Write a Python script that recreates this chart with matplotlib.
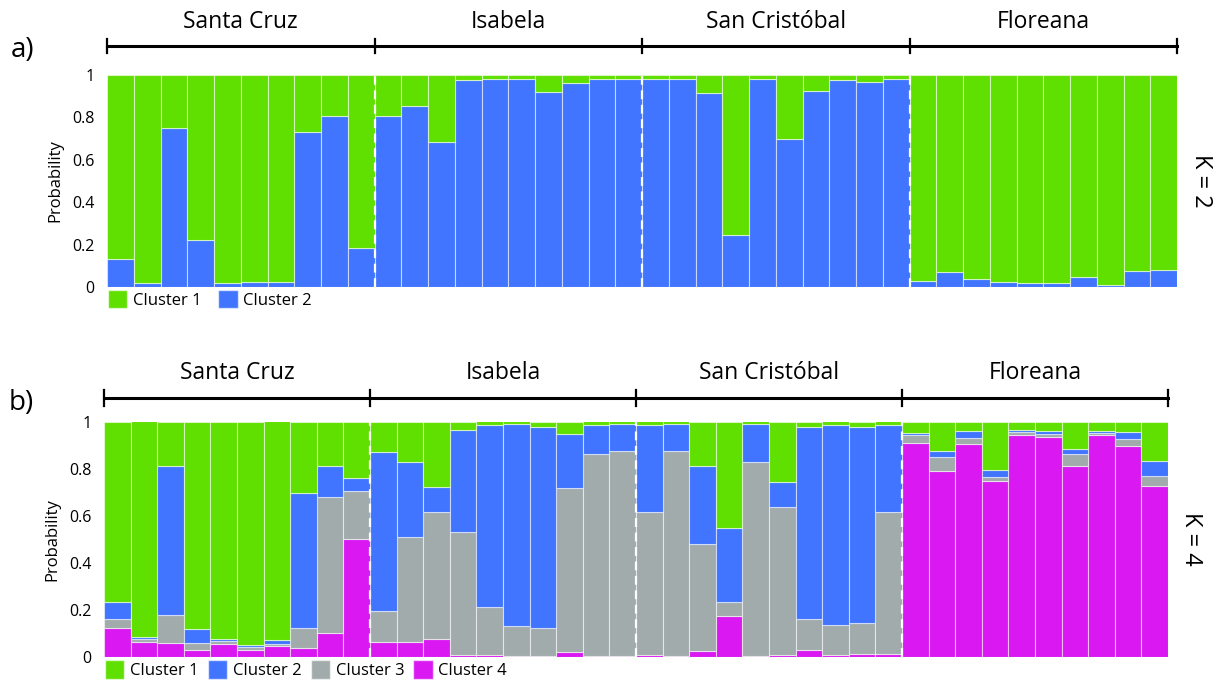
import matplotlib.pyplot as plt
import numpy as np
from matplotlib.patches import Patch

plt.rcParams['font.family'] = ['Open Sans', 'DejaVu Sans']

islands = ['Santa Cruz', 'Isabela', 'San Cristóbal', 'Floreana']
n_per_island = 10

# K = 2: proportion of Cluster 2 per individual (Cluster 1 is the rest)
k2_cluster2 = [
    0.13, 0.02, 0.748, 0.224, 0.02, 0.025, 0.025, 0.729, 0.806, 0.186,
    0.806, 0.854, 0.682, 0.975, 0.981, 0.979, 0.918, 0.964, 0.981, 0.979,
    0.979, 0.979, 0.913, 0.243, 0.981, 0.699, 0.926, 0.978, 0.965, 0.979,
    0.03, 0.07, 0.038, 0.025, 0.019, 0.017, 0.047, 0.011, 0.077, 0.082,
]

# K = 4: per-individual proportions for clusters 4, 3 and 2 (Cluster 1 fills to 1)
k4_cluster4 = [
    0.123, 0.064, 0.059, 0.028, 0.055, 0.031, 0.045, 0.037, 0.100, 0.499,
    0.064, 0.063, 0.075, 0.010, 0.007, 0.006, 0.006, 0.020, 0.004, 0.006,
    0.010, 0.006, 0.025, 0.174, 0.006, 0.010, 0.031, 0.010, 0.014, 0.014,
    0.908, 0.788, 0.904, 0.747, 0.944, 0.935, 0.809, 0.941, 0.898, 0.727,
]
k4_cluster3 = [
    0.040, 0.012, 0.118, 0.031, 0.011, 0.011, 0.010, 0.086, 0.579, 0.207,
    0.133, 0.448, 0.542, 0.521, 0.206, 0.124, 0.118, 0.699, 0.859, 0.868,
    0.607, 0.868, 0.456, 0.061, 0.823, 0.629, 0.132, 0.127, 0.129, 0.603,
    0.034, 0.063, 0.024, 0.017, 0.011, 0.013, 0.053, 0.010, 0.029, 0.043,
]
k4_cluster2 = [
    0.070, 0.009, 0.632, 0.062, 0.012, 0.010, 0.018, 0.573, 0.130, 0.056,
    0.673, 0.317, 0.105, 0.433, 0.771, 0.858, 0.853, 0.228, 0.124, 0.117,
    0.370, 0.117, 0.328, 0.313, 0.159, 0.105, 0.813, 0.850, 0.833, 0.370,
    0.011, 0.022, 0.030, 0.031, 0.009, 0.010, 0.021, 0.007, 0.028, 0.064,
]

green = '#5FE000'
blue = '#4175FF'
grey = '#A1ABAB'
magenta = '#D918F2'

fig = plt.figure(figsize=(12.15, 6.84), dpi=100)


def structure_panel(ax, layers, colors, names, bracket_y, label_y, tag, k_text,
                    legend_gap):
    x = np.arange(len(layers[0])) + 0.5
    bottom = np.zeros(len(x))
    for vals, c in zip(layers, colors):
        ax.bar(x, vals, bottom=bottom, width=1.0, color=c,
               edgecolor=(1, 1, 1, 0.55), linewidth=0.8)
        bottom = bottom + np.array(vals)
    # remaining share goes to Cluster 1 on top
    ax.bar(x, 1 - bottom, bottom=bottom, width=1.0, color=green,
           edgecolor=(1, 1, 1, 0.55), linewidth=0.8)

    for b in range(1, len(islands)):
        ax.axvline(b * n_per_island, color='white', ls=(0, (4, 2.5)), lw=1.6)

    ax.set_xlim(0, len(x))
    ax.set_ylim(0, 1)
    ax.set_xticks([])
    ax.set_yticks([0, 0.2, 0.4, 0.6, 0.8, 1])
    ax.set_yticklabels(['0', '0.2', '0.4', '0.6', '0.8', '1'])
    ax.tick_params(axis='y', length=0, labelsize=11.5, pad=9)
    for s in ax.spines.values():
        s.set_visible(False)
    ax.set_ylabel('Probability', fontsize=12, labelpad=6)

    # island brackets above the bars
    tr = ax.get_xaxis_transform()
    ax.plot([0, len(x)], [bracket_y, bracket_y], color='black', lw=2.2,
            transform=tr, clip_on=False)
    for b in range(len(islands) + 1):
        ax.plot([b * n_per_island] * 2, [bracket_y - 0.035, bracket_y + 0.035],
                color='black', lw=1.6, transform=tr, clip_on=False)
    for i, name in enumerate(islands):
        ax.text(i * n_per_island + n_per_island / 2, label_y, name,
                transform=tr, ha='center', va='center', fontsize=16.5)

    ax.text(-0.09, bracket_y - 0.02, tag, transform=ax.transAxes,
            ha='left', va='center', fontsize=20)
    ax.text(1.022, 0.5, k_text, transform=ax.transAxes, rotation=-90,
            ha='center', va='center', fontsize=17)

    handles = [Patch(facecolor=c, edgecolor=(1, 1, 1, 0.6)) for c in
               [green] + list(reversed(colors))]
    ax.legend(handles, names, loc='upper left', bbox_to_anchor=(-0.002, 0.0),
              ncol=len(names), frameon=False, fontsize=12, handlelength=1.15,
              handleheight=1.3, handletextpad=0.35, columnspacing=legend_gap,
              borderpad=0.1, borderaxespad=0.1)


ax_a = fig.add_axes([107 / 1215, 1 - 287 / 684, 1070 / 1215, 212 / 684])
structure_panel(ax_a, [k2_cluster2], [blue], ['Cluster 1', 'Cluster 2'],
                1.137, 1.25, 'a)', 'K = 2', 1.0)

ax_b = fig.add_axes([104 / 1215, 1 - 657 / 684, 1064 / 1215, 235.5 / 684])
structure_panel(ax_b, [k4_cluster4, k4_cluster3, k4_cluster2],
                [magenta, grey, blue],
                ['Cluster 1', 'Cluster 2', 'Cluster 3', 'Cluster 4'],
                1.10, 1.207, 'b)', 'K = 4', 0.55)

plt.savefig('out.png', dpi=100)
